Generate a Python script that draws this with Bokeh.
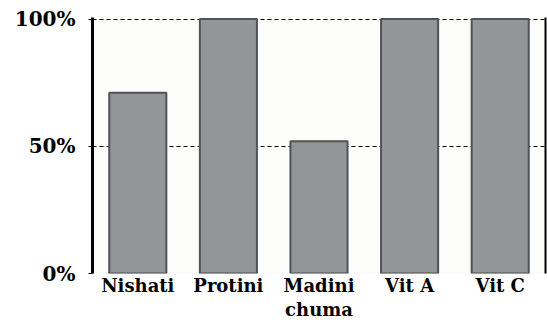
from bokeh.plotting import figure
from bokeh.models import (FactorRange, Range1d, FixedTicker, LinearAxis, CategoricalAxis,
                          ColumnDataSource, CustomJSTickFormatter)
from bokeh.embed import file_html
from bokeh.resources import INLINE

categories = ["Nishati", "Protini", "Madini chuma", "Vit A", "Vit C"]
label_line1 = ["Nishati", "Protini", "Madini", "Vit A", "Vit C"]
label_line2 = ["", "", "chuma", "", ""]
values = [71, 100, 52, 100, 100]
y_ticks = [0, 50, 100]
y_tick_labels = {0: "0%", 50: "50%", 100: "100%"}

src = ColumnDataSource(dict(cat=categories, val=values))

FONT = "DejaVu Serif"

p = figure(width=547, height=322, x_range=FactorRange(*categories, range_padding=0),
           y_range=Range1d(0, 100.6), output_backend="svg", toolbar_location=None,
           min_border_left=92, min_border_right=2, min_border_top=17, min_border_bottom=48)
p.background_fill_color = "#fcfcfa"
p.border_fill_color = "white"
p.outline_line_color = None

p.vbar(x="cat", top="val", width=0.63, source=src, fill_color="#939699",
       line_color="#4f5356", line_width=2)

p.xgrid.grid_line_color = None
p.ygrid.ticker = FixedTicker(ticks=[50, 100])
p.ygrid.grid_line_color = "black"
p.ygrid.grid_line_dash = "4 3"
p.ygrid.grid_line_width = 1

p.yaxis.ticker = FixedTicker(ticks=y_ticks)
p.yaxis.major_label_overrides = y_tick_labels
p.yaxis.axis_line_color = "black"
p.yaxis.axis_line_width = 3
p.yaxis.major_tick_line_color = "black"
p.yaxis.major_tick_out = 4
p.yaxis.major_tick_in = 0
p.yaxis.minor_tick_line_color = None
p.yaxis.major_label_standoff = 13
p.yaxis.major_label_text_font = FONT
p.yaxis.major_label_text_font_style = "bold"
p.yaxis.major_label_text_font_size = "20px"
p.yaxis.major_label_text_color = "black"

def make_fmt(lines):
    return CustomJSTickFormatter(args=dict(keys=categories, vals=lines),
                                 code="const i = keys.indexOf(tick); return i >= 0 ? vals[i] : '';")

def style_x(ax, lines, standoff):
    ax.axis_line_color = None
    ax.major_tick_line_color = None
    ax.minor_tick_line_color = None
    ax.major_tick_out = 0
    ax.major_tick_in = 0
    ax.formatter = make_fmt(lines)
    ax.major_label_standoff = standoff
    ax.major_label_text_font = FONT
    ax.major_label_text_font_style = "bold"
    ax.major_label_text_font_size = "18px"
    ax.major_label_text_color = "black"

style_x(p.xaxis[0], label_line1, 1)
ax2 = CategoricalAxis()
style_x(ax2, label_line2, 0)
p.add_layout(ax2, "below")

right = LinearAxis(ticker=FixedTicker(ticks=[]), axis_line_color="black", axis_line_width=2,
                   major_tick_line_color=None, minor_tick_line_color=None,
                   major_tick_out=0, major_label_standoff=0,
                   major_label_text_font_size="0px")
p.add_layout(right, "right")

open("out.html", "w").write(file_html(p, INLINE))
